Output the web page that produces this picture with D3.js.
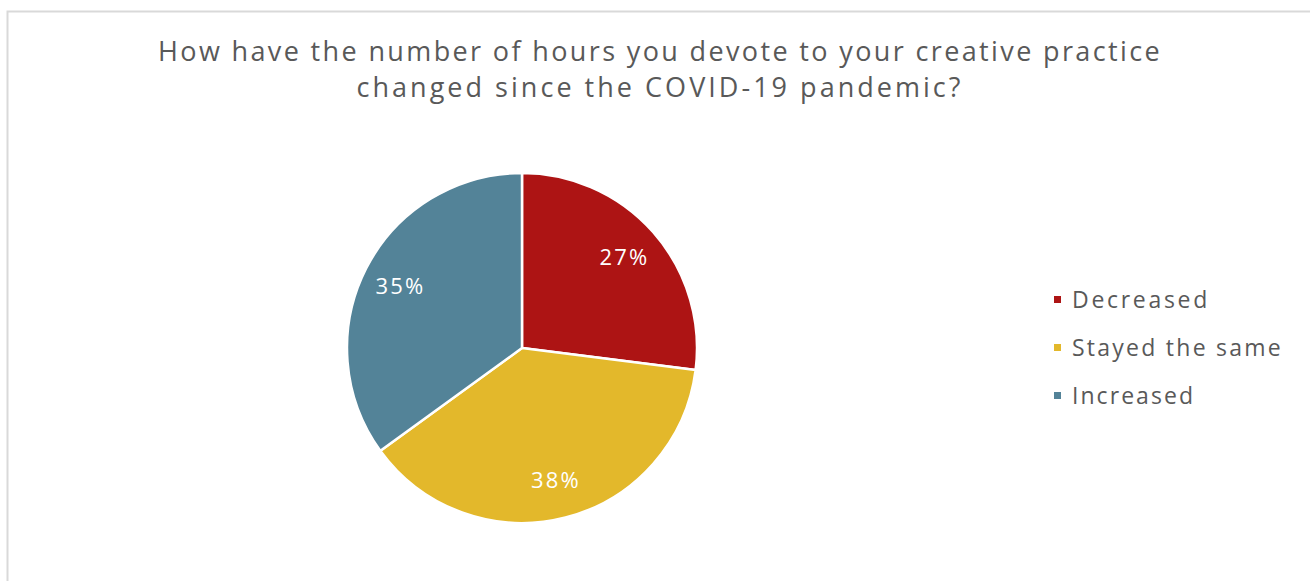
<!DOCTYPE html>
<html>
<head>
<meta charset="utf-8">
<script src="https://cdn.jsdelivr.net/npm/d3@7"></script>
<style>
  body { margin: 0; background: #fff; }
  text { font-family: "Open Sans", "DejaVu Sans", sans-serif; }
</style>
</head>
<body>
<svg id="chart" width="1310" height="581"></svg>
<script>
/* Chart data
--------------------------------------------------- */
const categories = ['Decreased', 'Stayed the same', 'Increased'];
const shares = [27, 38, 35];
const colours = ['#ad1414', '#e3b82b', '#538398'];
const titleLines = [
  'How have the number of hours you devote to your creative practice',
  'changed since the COVID-19 pandemic?',
];

/* Layout
--------------------------------------------------- */
const svg = d3.select('#chart');
const centre = { x: 522, y: 348 };
const radius = 175;

// frame around the chart area
svg
  .append('rect')
  .attr('x', 7.5)
  .attr('y', 11.5)
  .attr('width', 1320)
  .attr('height', 600)
  .attr('fill', 'none')
  .attr('stroke', '#d9d9d9')
  .attr('stroke-width', 2);

// widen a text to the width it has in the picture by spacing its letters
function spreadTo(sel, width) {
  const node = sel.node();
  const n = node.getNumberOfChars();
  const w = node.getComputedTextLength();
  if (n > 1) sel.attr('letter-spacing', (width - w) / n);
}

/* Title
--------------------------------------------------- */
const titleWidths = [1004, 607];
svg
  .append('g')
  .selectAll('text')
  .data(titleLines)
  .enter()
  .append('text')
  .attr('x', 660)
  .attr('y', (d, i) => 61 + i * 36)
  .attr('text-anchor', 'middle')
  .attr('fill', '#595959')
  .attr('font-size', 27)
  .text(d => d)
  .each(function (d, i) {
    spreadTo(d3.select(this), titleWidths[i]);
  });

/* Pie
--------------------------------------------------- */
const pie = d3.pie().sort(null).value(d => d);
const arc = d3.arc().innerRadius(0).outerRadius(radius);
const labelArc = d3.arc().innerRadius(radius * 0.78).outerRadius(radius * 0.78);

const pieGroup = svg.append('g').attr('transform', `translate(${centre.x},${centre.y})`);
const slices = pie(shares);

pieGroup
  .selectAll('path')
  .data(slices)
  .enter()
  .append('path')
  .attr('d', arc)
  .attr('fill', (d, i) => colours[i])
  .attr('stroke', '#fff')
  .attr('stroke-width', 2.5)
  .attr('stroke-linejoin', 'round');

pieGroup
  .selectAll('.label')
  .data(slices)
  .enter()
  .append('text')
  .attr('class', 'label')
  .attr('transform', d => `translate(${labelArc.centroid(d)})`)
  .attr('dy', '0.35em')
  .attr('text-anchor', 'middle')
  .attr('fill', '#fff')
  .attr('font-size', 22)
  .text(d => `${d.data}%`)
  .each(function () {
    spreadTo(d3.select(this), 50);
  });

/* Legend
--------------------------------------------------- */
const legendWidths = [138, 211, 123];
const legend = svg.append('g').attr('transform', 'translate(1054,300)');
const rows = legend
  .selectAll('g')
  .data(categories)
  .enter()
  .append('g')
  .attr('transform', (d, i) => `translate(0,${i * 48})`);

rows
  .append('rect')
  .attr('x', 0)
  .attr('y', -4)
  .attr('width', 7)
  .attr('height', 7)
  .attr('fill', (d, i) => colours[i]);

rows
  .append('text')
  .attr('x', 18)
  .attr('dy', '0.35em')
  .attr('fill', '#595959')
  .attr('font-size', 23)
  .text(d => d)
  .each(function (d, i) {
    spreadTo(d3.select(this), legendWidths[i]);
  });
</script>
</body>
</html>
